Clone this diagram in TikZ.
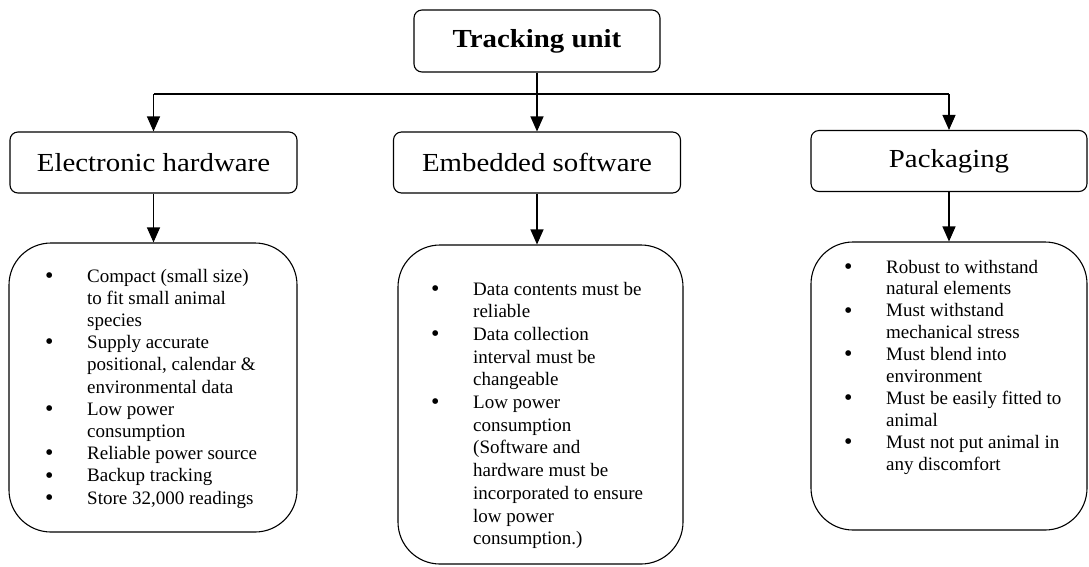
\documentclass[tikz,border=0pt]{standalone}
\usepackage{fontspec}
\setmainfont{Liberation Serif}
\newfontfamily\hdrfont[FakeStretch=1.11]{Liberation Serif}
\newcommand{\bul}{\raisebox{-1.2pt}{\fontsize{24}{22}\selectfont\textbullet}}
\usetikzlibrary{arrows.meta}
\begin{document}
\begin{tikzpicture}[x=1pt,y=-1pt,
 hdr/.style={draw, rounded corners=8pt, line width=1.1pt, inner sep=0pt, font=\hdrfont\fontsize{26}{30}\selectfont},
 req/.style={draw, rounded corners=42pt, line width=1.1pt, inner sep=0pt},
 arr/.style={line width=1.1pt, -{Triangle[width=13pt,length=15pt]}},
 lst/.style={anchor=base west, inner sep=0pt, align=left}]
\useasboundingbox (0,0) rectangle (1089,566);
% headers
\node[hdr, minimum width=246pt, minimum height=62pt] (top) at (537,41) {\textbf{Tracking unit}};
\node[hdr, minimum width=287pt, minimum height=61pt] (hw) at (153.5,162.5) {Electronic hardware};
\node[hdr, minimum width=287pt, minimum height=61pt] (emb) at (537,162.5) {Embedded software};
\node[hdr, minimum width=276pt, minimum height=61pt] (pk) at (949,161) {Packaging};
% requirement boxes
\node[req, minimum width=288pt, minimum height=289pt] (hwr) at (153,387.5) {};
\node[req, minimum width=285pt, minimum height=319pt] (embr) at (540.5,404.5) {};
\node[req, minimum width=276pt, minimum height=288pt] (pkr) at (949,386) {};
% connectors
\coordinate (bar) at (537,94);
\draw[arr] (top.south) -- (emb.north);
\draw[line width=1.1pt] (hw.north |- bar) -- (pk.north |- bar);
\draw[arr] (hw.north |- bar) -- (hw.north);
\draw[arr] (pk.north |- bar) -- (pk.north);
\draw[arr] (hw.south) -- (hw.south |- hwr.north);
\draw[arr] (emb.south) -- (emb.south |- embr.north);
\draw[arr] (pk.south) -- (pk.south |- pkr.north);
% lists
\node[lst] (hwl) at (45,282) {\fontsize{19}{22.2}\selectfont
\begin{tabular}[t]{@{}p{42pt}@{}l@{}}
\bul & Compact (small size)\\
 & to fit small animal\\
 & species\\
\bul & Supply accurate\\
 & positional, calendar \&\\
 & environmental data\\
\bul & Low power\\
 & consumption\\
\bul & Reliable power source\\
\bul & Backup tracking\\
\bul & Store 32,000 readings
\end{tabular}};
\node[lst] (embl) at (431,295) {\fontsize{19}{22.7}\selectfont
\begin{tabular}[t]{@{}p{42pt}@{}l@{}}
\bul & Data contents must be\\
 & reliable\\
\bul & Data collection\\
 & interval must be\\
 & changeable\\
\bul & Low power\\
 & consumption\\
 & (Software and\\
 & hardware must be\\
 & incorporated to ensure\\
 & low power\\
 & consumption.)
\end{tabular}};
\node[lst] (pkl) at (844,273) {\fontsize{19}{21.9}\selectfont
\begin{tabular}[t]{@{}p{42pt}@{}l@{}}
\bul & Robust to withstand\\
 & natural elements\\
\bul & Must withstand\\
 & mechanical stress\\
\bul & Must blend into\\
 & environment\\
\bul & Must be easily fitted to\\
 & animal\\
\bul & Must not put animal in\\
 & any discomfort
\end{tabular}};
\end{tikzpicture}
\end{document}
